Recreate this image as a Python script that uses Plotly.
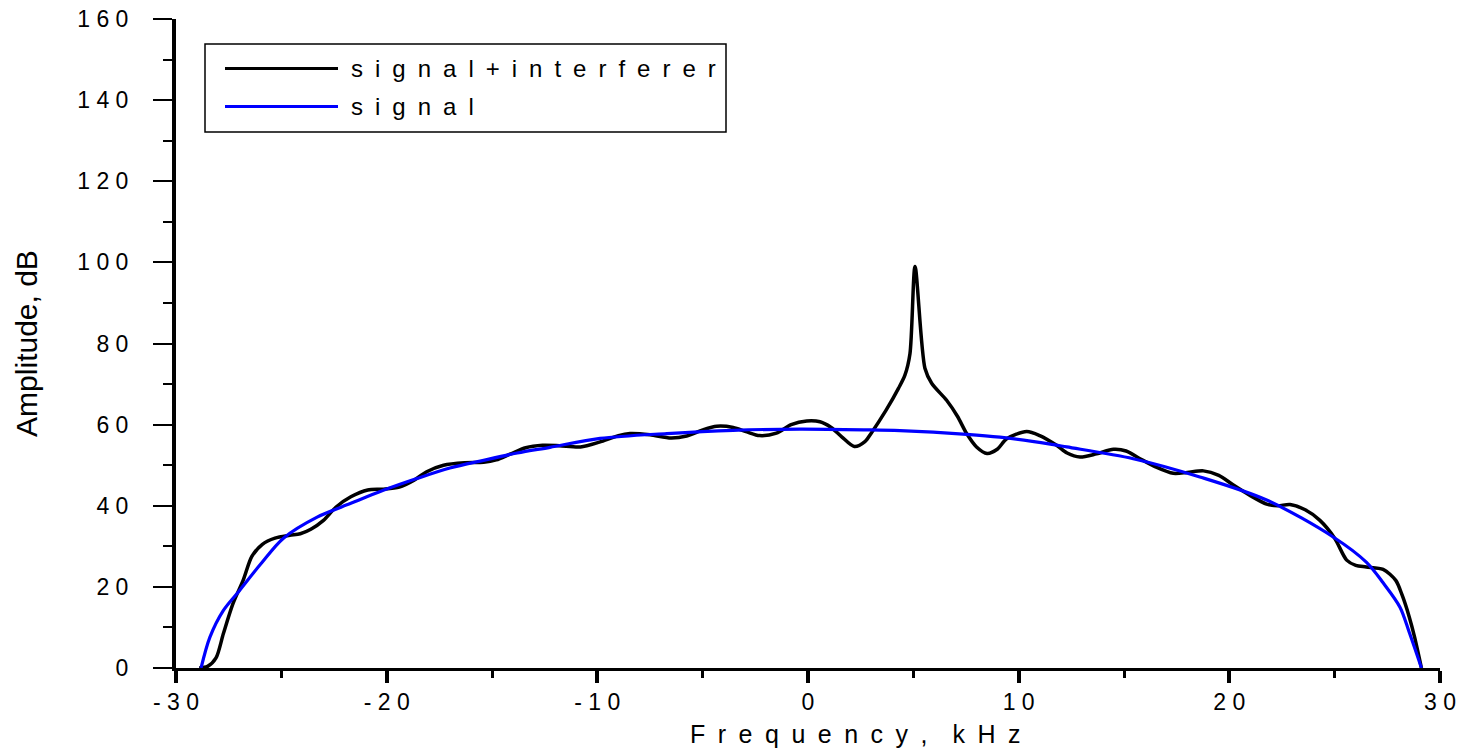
import plotly.graph_objects as go

# ---- data ----
freq_mix = [-28.9, -28.5, -28.1, -27.75, -27.3, -26.8, -26.4, -25.9, -25.3, -24.6,
            -24.1, -23.6, -23.0, -22.4, -21.7, -20.9, -20.2, -19.4, -18.7, -18.1,
            -17.3, -16.3, -15.4, -14.8, -14.15, -13.4, -12.6, -11.8, -10.8, -9.9,
            -9.0, -8.45, -7.5, -6.5, -5.76, -5.0, -4.33, -3.55, -2.9, -2.3,
            -1.5, -0.8, -0.06, 0.57, 1.1, 1.6, 2.2, 2.7, 3.0, 3.7,
            4.3, 4.6, 4.84, 5.08, 5.55, 5.87, 6.58, 7.1, 7.53, 8.0,
            8.5, 9.0, 9.43, 10.38, 11.0, 11.8, 12.3, 12.91, 13.7, 14.5,
            15.1, 15.76, 16.5, 17.34, 18.0, 18.77, 19.5, 20.19, 21.0, 21.77,
            22.3, 22.88, 23.6, 24.3, 25.0, 25.57, 26.0, 26.5, 27.3, 27.9,
            28.2, 28.54, 28.8, 29.12]
amp_mix = [0.0, 0.4, 2.5, 8.5, 15.8, 21.8, 27.5, 30.5, 32.0, 32.7,
           33.1, 34.2, 36.4, 39.7, 42.2, 43.9, 44.1, 44.6, 46.3, 48.4,
           50.0, 50.6, 50.7, 51.3, 52.7, 54.3, 54.9, 54.8, 54.5, 55.7,
           57.3, 57.8, 57.5, 56.7, 57.2, 58.7, 59.6, 59.3, 58.2, 57.3,
           57.9, 60.0, 60.9, 60.7, 59.3, 57.0, 54.6, 55.8, 57.9, 63.5,
           69.0, 72.2, 77.5, 99.0, 73.9, 70.2, 66.0, 62.0, 57.8, 54.5,
           52.9, 54.0, 56.5, 58.3, 57.3, 54.9, 53.0, 52.0, 52.8, 53.9,
           53.5, 51.6, 49.6, 48.0, 48.2, 48.6, 47.5, 45.1, 42.5, 40.4,
           40.0, 40.3, 39.0, 36.4, 32.0, 26.6, 25.3, 24.9, 24.3, 21.6,
           18.0, 12.6, 7.5, 0.0]

freq_sig = [-28.81, -28.39, -27.75, -27.0, -26.0, -24.9, -23.3, -21.7, -20.16, -18.57,
            -17.0, -15.4, -13.8, -12.25, -9.87, -6.7, -3.55, -0.38, 2.78, 4.37,
            7.53, 9.11, 11.5, 12.28, 15.44, 18.6, 21.77, 24.93, 26.5, 27.3,
            28.1, 28.54, 29.12]
amp_sig = [0.0, 7.6, 14.2, 19.0, 25.5, 32.0, 37.2, 40.6, 43.8, 46.7,
           49.3, 51.2, 53.0, 54.4, 56.6, 57.8, 58.6, 58.9, 58.7, 58.5,
           57.6, 56.9, 55.2, 54.5, 51.6, 47.1, 41.4, 32.3, 26.1, 21.0,
           15.0, 8.8, 0.0]

x_tickvals = [-30, -20, -10, 0, 10, 20, 30]
x_ticktext = ["- 3 0", "- 2 0", "- 1 0", "0", "1 0", "2 0", "3 0"]
y_tickvals = [0, 20, 40, 60, 80, 100, 120, 140, 160]
y_ticktext = ["0", "2 0", "4 0", "6 0", "8 0", "1 0 0", "1 2 0", "1 4 0", "1 6 0"]

series_names = ["s\u2002i\u2002g\u2002n\u2002a\u2002l\u2002+\u2002i\u2002n\u2002t\u2002e\u2002r\u2002f\u2002e\u2002r\u2002e\u2002r",
                "s\u2002i\u2002g\u2002n\u2002a\u2002l"]
series_colors = ["#000000", "#0000FF"]
x_title = "F\u2002r\u2002e\u2002q\u2002u\u2002e\u2002n\u2002c\u2002y\u2002,\u2002\u2002k\u2002H\u2002z"
y_title = "Amplitude, dB"

# ---- layout geometry (pixels) ----
W, H = 1459, 754
ML, MR, MT, MB = 176, 19, 19, 86
PW, PH = W - ML - MR, H - MT - MB
FONT = "Liberation Sans, Arial, sans-serif"


def px_x(p):
    return (p - ML) / PW


def px_y(p):
    return (H - MB - p) / PH


fig = go.Figure()
fig.add_trace(go.Scatter(x=freq_mix, y=amp_mix, mode="lines", name=series_names[0],
                         line=dict(color=series_colors[0], width=3.5, shape="spline", smoothing=0.8),
                         showlegend=False))
fig.add_trace(go.Scatter(x=freq_sig, y=amp_sig, mode="lines", name=series_names[1],
                         line=dict(color=series_colors[1], width=3.2, shape="spline", smoothing=0.9),
                         showlegend=False))

# legend drawn as a framed box with long line samples
shapes = [dict(type="rect", xref="paper", yref="paper",
               x0=px_x(205), x1=px_x(726), y0=px_y(132), y1=px_y(44),
               line=dict(color="black", width=1.5), fillcolor="white", layer="above")]
annotations = []
for i, (nm, col) in enumerate(zip(series_names, series_colors)):
    yy = px_y(68.5 + i * 38)
    shapes.append(dict(type="line", xref="paper", yref="paper",
                       x0=px_x(225), x1=px_x(338), y0=yy, y1=yy,
                       line=dict(color=col, width=3), layer="above"))
    annotations.append(dict(text=nm, xref="paper", yref="paper", x=px_x(349), y=yy,
                            xanchor="left", yanchor="middle", showarrow=False,
                            font=dict(family=FONT, size=24, color="black")))

annotations.append(dict(text=x_title, xref="paper", yref="paper", x=px_x(855), y=px_y(734),
                        xanchor="center", yanchor="middle", showarrow=False,
                        font=dict(family=FONT, size=25, color="black")))

fig.update_layout(
    width=W, height=H, autosize=False,
    margin=dict(l=ML, r=MR, t=MT, b=MB, pad=0, autoexpand=False),
    paper_bgcolor="white", plot_bgcolor="white",
    font=dict(family=FONT, color="black"),
    showlegend=False,
    shapes=shapes, annotations=annotations,
)
fig.update_xaxes(range=[-30, 30], showgrid=False, zeroline=False, automargin=False,
                 showline=True, linecolor="black", linewidth=2.5,
                 ticks="outside", ticklen=12, tickwidth=4, tickcolor="black",
                 tickvals=x_tickvals, ticktext=x_ticktext,
                 tickfont=dict(family=FONT, size=23, color="black"),
                 ticklabelstandoff=0,
                 minor=dict(ticks="outside", ticklen=7, tickwidth=3, tickcolor="black", dtick=5, showgrid=False))
fig.update_yaxes(range=[0, 160], showgrid=False, zeroline=False, automargin=False,
                 showline=True, linecolor="black", linewidth=4,
                 ticks="outside", ticklen=19, tickwidth=2, tickcolor="black",
                 tickvals=y_tickvals, ticktext=y_ticktext,
                 tickfont=dict(family=FONT, size=23, color="black"),
                 ticklabelstandoff=20,
                 minor=dict(ticks="outside", ticklen=9, tickwidth=2, tickcolor="black", dtick=10, showgrid=False),
                 title=dict(text=y_title, font=dict(family=FONT, size=30, color="black"), standoff=32))

fig.write_html("out.html")
